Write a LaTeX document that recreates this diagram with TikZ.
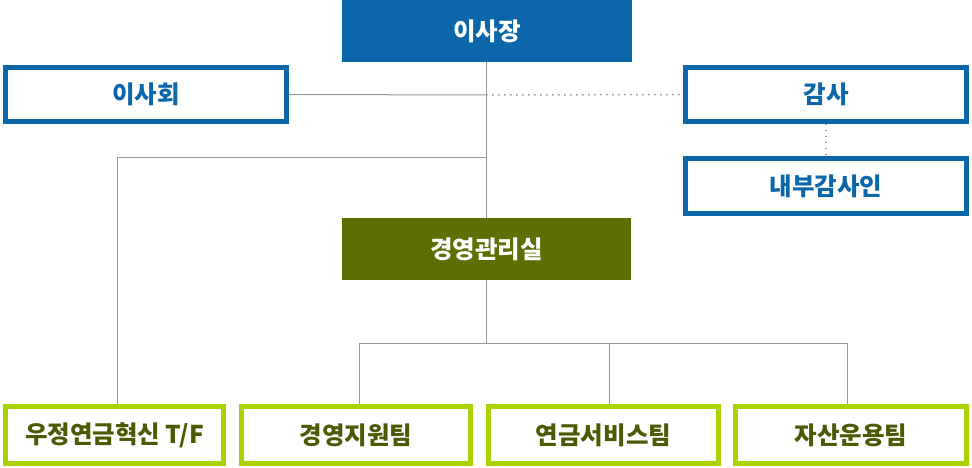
\documentclass[tikz,border=0pt]{standalone}
\usepackage{fontspec}
\setmainfont{Noto Sans CJK KR}
\usepackage{tikz}
\usetikzlibrary{positioning}
\definecolor{orgblue}{HTML}{0B67AA}
\definecolor{orgolive}{HTML}{5D6F03}
\definecolor{orggreen}{HTML}{AAD400}
\definecolor{orgtext}{HTML}{4B5A04}
\definecolor{orgline}{HTML}{999999}

\begin{document}
\begin{tikzpicture}[x=1pt, y=-1pt,
    boxfont/.style={font=\bfseries\fontsize{24.5}{28}\selectfont},
    headbox/.style={boxfont, fill=orgblue, text=white, minimum width=290pt, minimum height=62pt, inner sep=0pt},
    officebox/.style={boxfont, fill=orgolive, text=white, minimum width=289pt, minimum height=62pt, inner sep=0pt},
    sidebox/.style={boxfont, draw=orgblue, line width=5pt, text=orgblue, minimum width=281pt, minimum height=54pt, inner sep=0pt},
    teambox/.style={boxfont, draw=orggreen, line width=5pt, text=orgtext, minimum height=57pt, inner sep=0pt},
    link/.style={draw=orgline, line width=1pt},
    dotlink/.style={draw=orgline, line width=1.5pt, dash pattern=on 1.5pt off 4.5pt}]
        \useasboundingbox (0,0) rectangle (972,468);

        \node[headbox] (ceo) at (487,31) {이사장};
        \node[sidebox] (board) at (146,94.5) {이사회};
        \node[sidebox] (audit) at (826,94.5) {감사};
        \node[sidebox] (inaudit) at (826,186) {내부감사인};
        \node[officebox] (mgmt) at (486.5,249) {경영관리실};

        \node[teambox, minimum width=218pt] (tf) at (114.5,435) {우정연금혁신 T/F};
        \node[teambox, minimum width=229pt] (supp) at (356,435) {경영지원팀};
        \node[teambox, minimum width=230pt] (serv) at (603.5,435) {연금서비스팀};
        \node[teambox, minimum width=231pt] (fund) at (851,435) {자산운용팀};

        \coordinate (j1) at (486,95);
        \coordinate (j2) at (486,158);
        \coordinate (j3) at (486,343);

        \draw[link] (ceo.south -| j1) -- (mgmt.north -| j1);
        \draw[link] (board.east) -- (j1);
        \draw[dotlink] (j1) -- (audit.west);
        \draw[dotlink] (audit.south) -- (inaudit.north);
        \draw[link] (j2) -| (117,404);
        \draw[link] (mgmt.south -| j3) -- (j3);
        \draw[link] (359,404) |- (847,343) -- (847,404);
        \draw[link] (609,343) -- (609,404);

    \end{tikzpicture}
\end{document}
